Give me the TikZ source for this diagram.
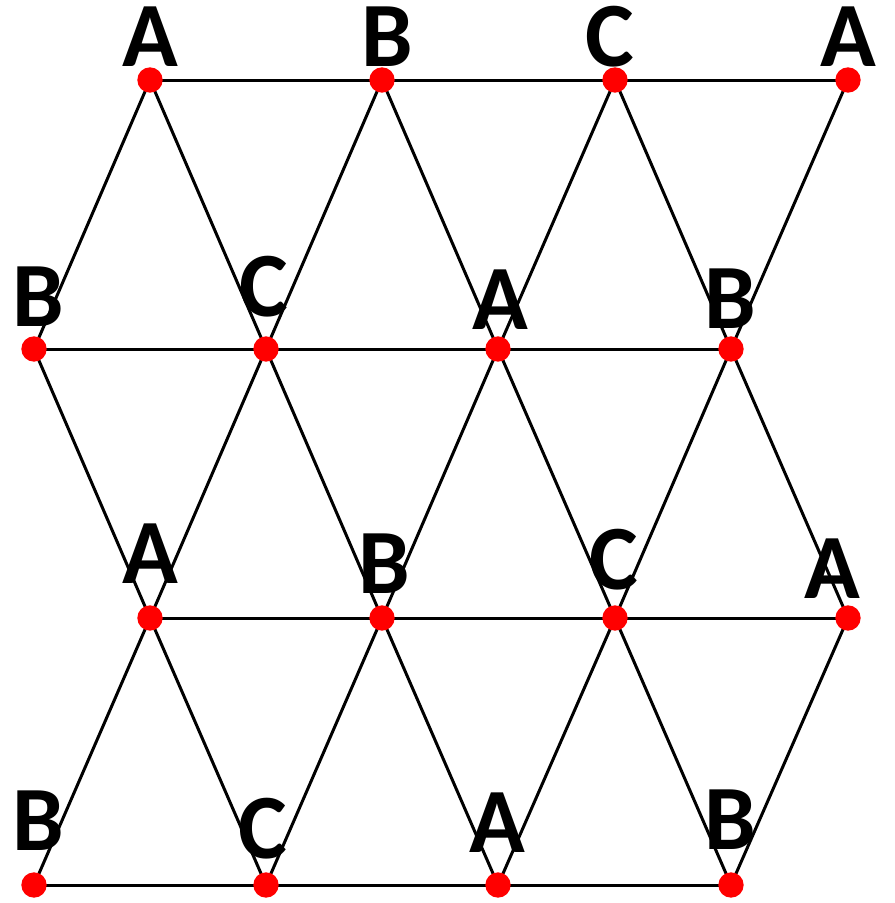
\documentclass[tikz,border=0pt]{standalone}
\usepackage{fontspec}
\setmainfont{Carlito}
\begin{document}
\begin{tikzpicture}[x=0.75pt,y=-0.75pt,
  vtx/.style={circle,fill=red,inner sep=0pt,minimum size=19pt},
  lbl/.style={anchor=base,inner sep=0pt,font=\fontsize{69}{69}\selectfont\bfseries},
  edge/.style={line width=2.25pt,black}]
\useasboundingbox (0,0) rectangle (894,903);
% vertices
\foreach \n/\x/\y in {a1/150/80,a2/382/80,a3/615/80,a4/848/80,
  b1/34/349,b2/266/349,b3/498/349,b4/731/349,
  c1/150/618,c2/382/618,c3/615/618,c4/848/618,
  d1/34/885,d2/266/885,d3/498/885,d4/731/885}
  \coordinate (\n) at (\x,\y);
% edges
\draw[edge] (a1)--(a2)--(a3)--(a4);
\draw[edge] (b1)--(b2)--(b3)--(b4);
\draw[edge] (c1)--(c2)--(c3)--(c4);
\draw[edge] (d1)--(d2)--(d3)--(d4);
\draw[edge] (b1)--(a1)--(b2)--(a2)--(b3)--(a3)--(b4)--(a4);
\draw[edge] (b1)--(c1)--(b2)--(c2)--(b3)--(c3)--(b4)--(c4);
\draw[edge] (d1)--(c1)--(d2)--(c2)--(d3)--(c3)--(d4)--(c4);
\foreach \n in {a1,a2,a3,a4,b1,b2,b3,b4,c1,c2,c3,c4,d1,d2,d3,d4}
  \node[vtx] (v\n) at (\n) {};
% labels
\node[lbl] (la1) at (150,66) {A};
\node[lbl] (la2) at (387,66) {B};
\node[lbl] (la3) at (610,66) {C};
\node[lbl] (la4) at (848,66) {A};
\node[lbl] (lb1) at (38,326) {B};
\node[lbl] (lb2) at (264,316) {C};
\node[lbl] (lb3) at (500,329) {A};
\node[lbl] (lb4) at (730,328) {B};
\node[lbl] (lc1) at (150,583) {A};
\node[lbl] (lc2) at (384,593) {B};
\node[lbl] (lc3) at (614,589) {C};
\node[lbl] (lc4) at (832,598) {A};
\node[lbl] (ld1) at (38,850) {B};
\node[lbl] (ld2) at (263,858) {C};
\node[lbl] (ld3) at (497,852) {A};
\node[lbl] (ld4) at (730,849) {B};
\end{tikzpicture}
\end{document}
